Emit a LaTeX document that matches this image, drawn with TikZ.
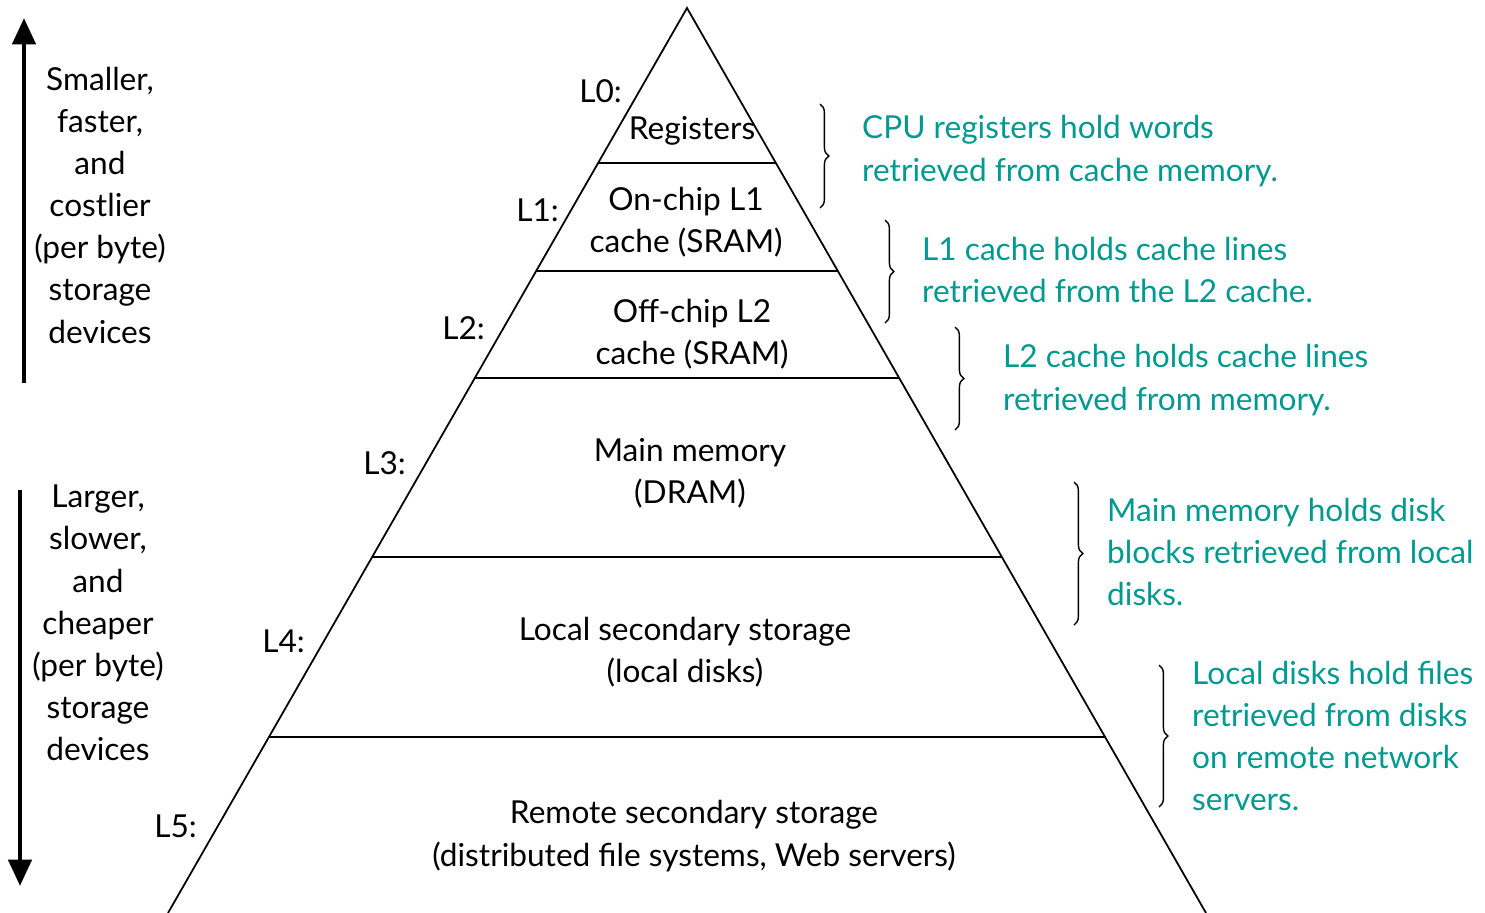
\documentclass[tikz,border=0pt]{standalone}
\usepackage{fontspec}
\setmainfont{Lato}
\usetikzlibrary{arrows.meta,calc,decorations.pathreplacing}
\definecolor{noteteal}{RGB}{0,153,143}
\tikzset{
  lvl/.style={anchor=east},
  tier/.style={align=center},
  note/.style={anchor=west,align=left,text=noteteal},
  side/.style={align=center},
  bigarrow/.style={line width=2.8pt,-{Triangle[length=15pt,width=13pt]}},
  brc/.style={decorate,decoration={brace,amplitude=5pt},line width=0.8pt}
}

\begin{document}
\begin{tikzpicture}[x=0.02cm,y=-0.02cm,font=\fontsize{18}{24}\selectfont]
\useasboundingbox (0,0) rectangle (1485,913);
\coordinate (apex) at (687,8);
\coordinate (bl) at (168,913);
\coordinate (br) at (1206,913);
\draw[line width=1pt] (bl) -- (apex) -- (br);
\foreach \t [count=\i] in {0.17127,0.29061,0.40884,0.60663,0.80552}
  \draw[line width=1pt] ($(apex)!\t!(bl)$) coordinate (l\i) -- ($(apex)!\t!(br)$) coordinate (r\i);

\node[tier] (reg) at (692,131) {Registers};
\node[tier] (sram1) at (686,222) {On-chip L1\\cache (SRAM)};
\node[tier] (sram2) at (692,334) {Off-chip L2\\cache (SRAM)};
\node[tier] (dram) at (690,473) {Main memory\\(DRAM)};
\node[tier] (local) at (685,652) {Local secondary storage\\(local disks)};
\node[tier] (remote) at (694,836) {Remote secondary storage\\(distributed file systems, Web servers)};

\node[lvl] (L0) at (628,91) {L0:};
\node[lvl] (L1) at (565,210) {L1:};
\node[lvl] (L2) at (491,328) {L2:};
\node[lvl] (L3) at (412,463) {L3:};
\node[lvl] (L4) at (311,641) {L4:};
\node[lvl] (L5) at (203,826) {L5:};

\coordinate (upfrom) at (24,383);
\coordinate (upto) at (24,18);
\coordinate (downfrom) at (20,490);
\coordinate (downto) at (20,886);
\draw[bigarrow] (upfrom) -- (upto);
\draw[bigarrow] (downfrom) -- (downto);
\node[side] (costly) at (100,205) {Smaller,\\faster,\\and\\costlier\\(per byte)\\storage\\devices};
\node[side] (cheap) at (98,623) {Larger,\\slower,\\and\\cheaper\\(per byte)\\storage\\devices};

\coordinate (b1t) at (820,104);
\coordinate (b1b) at (820,208);
\coordinate (b2t) at (885,220);
\coordinate (b2b) at (885,323);
\coordinate (b3t) at (955,327);
\coordinate (b3b) at (955,430);
\coordinate (b4t) at (1074,482);
\coordinate (b4b) at (1074,625);
\coordinate (b5t) at (1159,665);
\coordinate (b5b) at (1159,807);
\draw[brc] (b1t) -- (b1b);
\draw[brc] (b2t) -- (b2b);
\draw[brc] (b3t) -- (b3b);
\draw[brc] (b4t) -- (b4b);
\draw[brc] (b5t) -- (b5b);

\node[note] (n1) at (856,151) {CPU registers hold words\\retrieved from cache memory.};
\node[note] (n2) at (916,270) {L1 cache holds cache lines\\retrieved from the L2 cache.};
\node[note] (n3) at (997,380) {L2 cache holds cache lines\\retrieved from memory.};
\node[note] (n4) at (1101,552) {Main memory holds disk\\blocks retrieved from local\\disks.};
\node[note] (n5) at (1186,736) {Local disks hold files\\retrieved from disks\\on remote network\\servers.};
\end{tikzpicture}
\end{document}
